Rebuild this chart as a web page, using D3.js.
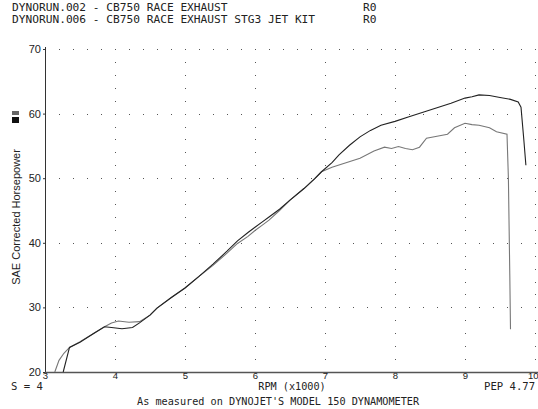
<!DOCTYPE html>
<html><head><meta charset="utf-8">
<script src="https://cdn.jsdelivr.net/npm/d3@7"></script>
<style>
body{margin:0;background:#fff;}
svg{display:block;}
.mono{font-family:"DejaVu Sans Mono","Liberation Mono",monospace;fill:#222;}
</style></head>
<body>
<svg id="c" width="538" height="409"></svg>
<script>
// ---- data ----
const headerLines = ["DYNORUN.002 - CB750 RACE EXHAUST", "DYNORUN.006 - CB750 RACE EXHAUST STG3 JET KIT"];
const headerTags = ["R0", "R0"];
const xTicks = [3, 4, 5, 6, 7, 8, 9, 10];
const yTicks = [20, 30, 40, 50, 60, 70];
// Run 002 (gray)
const rpm002 = [3.14, 3.2, 3.27, 3.35, 3.5, 3.7, 3.85, 3.95, 4.05, 4.2, 4.35, 4.5, 4.6, 4.8, 5.0, 5.2, 5.4, 5.6, 5.75, 5.9, 6.0, 6.1, 6.2, 6.35, 6.5, 6.7, 6.85, 6.95, 7.1, 7.3, 7.5, 7.7, 7.85, 7.95, 8.05, 8.15, 8.25, 8.35, 8.45, 8.6, 8.75, 8.85, 9.0, 9.1, 9.2, 9.35, 9.45, 9.6, 9.62, 9.64, 9.65];
const hp002 = [20.0, 21.8, 22.9, 23.8, 24.7, 26.0, 27.0, 27.6, 27.9, 27.7, 27.8, 28.8, 29.9, 31.5, 33.0, 34.8, 36.5, 38.4, 39.9, 41.0, 41.9, 42.7, 43.5, 45.0, 46.6, 48.4, 49.9, 51.0, 51.7, 52.4, 53.1, 54.2, 54.8, 54.6, 54.9, 54.6, 54.4, 54.8, 56.2, 56.5, 56.8, 57.8, 58.5, 58.3, 58.2, 57.8, 57.2, 56.8, 50.0, 35.0, 26.6];
// Run 006 (dark)
const rpm006 = [3.26, 3.35, 3.5, 3.7, 3.85, 3.95, 4.1, 4.25, 4.35, 4.5, 4.6, 4.8, 5.0, 5.2, 5.4, 5.6, 5.75, 5.9, 6.0, 6.1, 6.2, 6.35, 6.5, 6.7, 6.85, 6.95, 7.1, 7.2, 7.35, 7.5, 7.65, 7.8, 8.0, 8.2, 8.4, 8.6, 8.8, 9.0, 9.1, 9.2, 9.35, 9.5, 9.65, 9.76, 9.8, 9.84, 9.87];
const hp006 = [20.0, 23.8, 24.6, 26.0, 27.0, 26.9, 26.7, 26.9, 27.6, 28.8, 29.9, 31.5, 33.0, 34.8, 36.7, 38.7, 40.3, 41.6, 42.4, 43.2, 44.0, 45.2, 46.6, 48.4, 49.9, 51.0, 52.4, 53.6, 55.1, 56.4, 57.4, 58.2, 58.8, 59.5, 60.2, 60.9, 61.6, 62.4, 62.6, 62.9, 62.8, 62.5, 62.2, 61.8, 61.0, 56.0, 52.0];

// ---- chart ----
const svg = d3.select("#c");
const x = d3.scaleLinear().domain([3, 10]).range([45, 535]);
const y = d3.scaleLinear().domain([20, 70]).range([372, 49]);

// header
headerLines.forEach((t, i) => {
  svg.append("text").attr("class", "mono").attr("font-size", 11.2).attr("x", 12).attr("y", 11 + i * 12).text(t);
  svg.append("text").attr("class", "mono").attr("font-size", 11.2).attr("x", 363).attr("y", 11 + i * 12).text(headerTags[i]);
});

// dotted grid
const g = svg.append("g").attr("fill", "#555");
yTicks.filter(v => v > 20).forEach(v => {
  d3.range(3.2, 10.01, 0.2).forEach(r => {
    g.append("rect").attr("x", Math.round(x(r))).attr("y", Math.round(y(v))).attr("width", 1).attr("height", 1);
  });
});
xTicks.filter(v => v > 3).forEach(r => {
  d3.range(22, 70.01, 2).forEach(v => {
    if (v % 10 === 0) return;
    g.append("rect").attr("x", Math.round(x(r))).attr("y", Math.round(y(v))).attr("width", 1).attr("height", 1);
  });
});

// axes lines
svg.append("line").attr("x1", 45.5).attr("x2", 45.5).attr("y1", y(70) - 2).attr("y2", 372).attr("stroke", "#333").attr("stroke-width", 1);
svg.append("line").attr("x1", 45).attr("x2", 538).attr("y1", 372.5).attr("y2", 372.5).attr("stroke", "#555").attr("stroke-width", 1.6);

// y tick labels
const yAxis = d3.axisLeft(y).tickValues(yTicks).tickSize(2).tickPadding(2).tickFormat(d3.format("d"));
const ya = svg.append("g").attr("transform", "translate(45,0)").call(yAxis);
ya.select(".domain").remove();
ya.selectAll("text").attr("font-family", "Liberation Sans, Arial, sans-serif").attr("font-size", 11).attr("fill", "#222");
ya.selectAll("line").attr("stroke", "#333");

// x tick labels
const xAxis = d3.axisBottom(x).tickValues(xTicks).tickSize(0).tickPadding(0).tickFormat(d3.format("d"));
const xa = svg.append("g").attr("transform", "translate(0,372)").call(xAxis);
xa.select(".domain").remove();
xa.selectAll("text").attr("font-family", "Liberation Sans, Arial, sans-serif").attr("font-size", 9.5).attr("fill", "#222").attr("dy", "0.72em");
xa.selectAll(".tick").filter(d => d === 10).select("text").attr("text-anchor", "end").attr("dx", 3);

// y label + legend squares
svg.append("text").attr("transform", "translate(20,217) rotate(-90)").attr("text-anchor", "middle")
  .attr("font-family", "Liberation Sans, Arial, sans-serif").attr("font-size", 11).attr("fill", "#222")
  .text("SAE Corrected Horsepower");
svg.append("rect").attr("x", 12).attr("y", 111).attr("width", 7).attr("height", 4).attr("fill", "#666");
svg.append("rect").attr("x", 12).attr("y", 117).attr("width", 7).attr("height", 6).attr("fill", "#111");

// footer
svg.append("text").attr("class", "mono").attr("font-size", 10.6).attr("x", 11).attr("y", 390).text("S = 4");
svg.append("text").attr("class", "mono").attr("font-size", 10.2).attr("x", 292).attr("y", 390).attr("text-anchor", "middle").text("RPM (x1000)");
svg.append("text").attr("class", "mono").attr("font-size", 10.6).attr("x", 484).attr("y", 390).text("PEP 4.77");
svg.append("text").attr("class", "mono").attr("font-size", 10.2).attr("x", 137).attr("y", 405).text("As measured on DYNOJET'S MODEL 150 DYNAMOMETER");

// curves
const line = d3.line().x(d => x(d[0])).y(d => y(d[1]));
svg.append("path").datum(d3.zip(rpm002, hp002)).attr("d", line)
  .attr("fill", "none").attr("stroke", "#777").attr("stroke-width", 1.1);
svg.append("path").datum(d3.zip(rpm006, hp006)).attr("d", line)
  .attr("fill", "none").attr("stroke", "#222").attr("stroke-width", 1.1);
</script>
</body></html>
